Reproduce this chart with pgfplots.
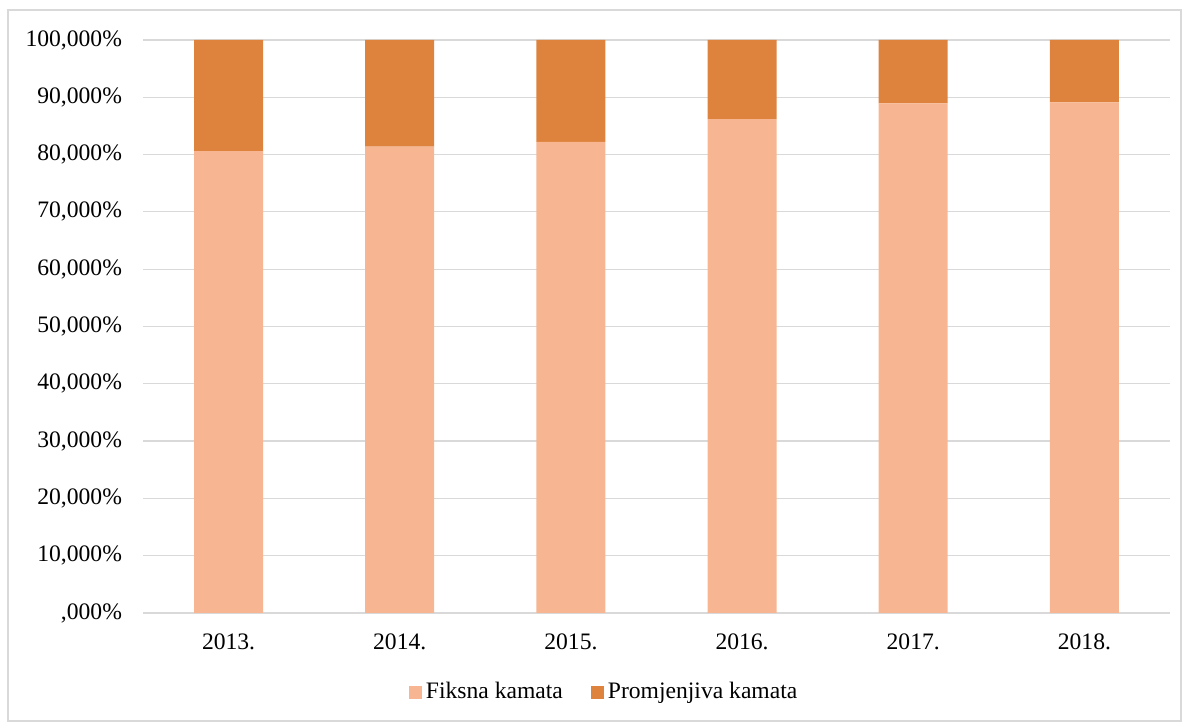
\documentclass[border=0pt]{standalone}
\usepackage{pgfplots}
\pgfplotsset{compat=1.18}
\usepackage{fontspec}
\setmainfont{Liberation Serif}
\definecolor{fiks}{RGB}{248,181,145}
\definecolor{prom}{RGB}{221,131,61}
\definecolor{gridc}{RGB}{217,217,217}
\begin{document}
\begin{tikzpicture}
\useasboundingbox (0pt,0pt) rectangle (594.5pt,361pt);
\draw[gridc, line width=0.6pt] (4pt,0.5pt) rectangle (590.5pt,356pt);
\begin{axis}[
  at={(71.5pt,54.5pt)}, anchor=south west,
  scale only axis, width=513.5pt, height=286.5pt,
  ybar stacked, bar width=34.5pt,
  xmin=-0.5, xmax=5.5, ymin=0, ymax=100,
  xtick={0,...,5}, xticklabels={2013.,2014.,2015.,2016.,2017.,2018.},
  ytick={0,10,...,100},
  yticklabels={{,000\%},{10,000\%},{20,000\%},{30,000\%},{40,000\%},{50,000\%},{60,000\%},{70,000\%},{80,000\%},{90,000\%},{100,000\%}},
  ymajorgrids, grid style={gridc, line width=0.6pt},
  axis x line*=bottom, axis y line*=left,
  x axis line style={gridc, line width=0.6pt, -},
  y axis line style={draw=none},
  major tick length=0pt,
  tick label style={font=\fontsize{11.8}{14}\selectfont, text=black},
  yticklabel style={anchor=east, xshift=-7pt},
  xticklabel style={yshift=-7pt},
  legend style={at={(0.45,-0.138)}, anchor=center, draw=none, legend columns=2,
    font=\fontsize{11.8}{14}\selectfont, /tikz/every even column/.append style={column sep=12pt}},
  legend image code/.code={\fill[#1] (0pt,-3.25pt) rectangle (6.5pt,3.25pt);},
]
\addplot[fill=fiks, draw=none] coordinates {(0,80.6) (1,81.4) (2,82.2) (3,86.2) (4,88.95) (5,89.1)};
\addplot[fill=prom, draw=none] coordinates {(0,19.4) (1,18.6) (2,17.8) (3,13.8) (4,11.05) (5,10.9)};
\legend{Fiksna kamata, Promjenjiva kamata}
\end{axis}
\end{tikzpicture}
\end{document}
